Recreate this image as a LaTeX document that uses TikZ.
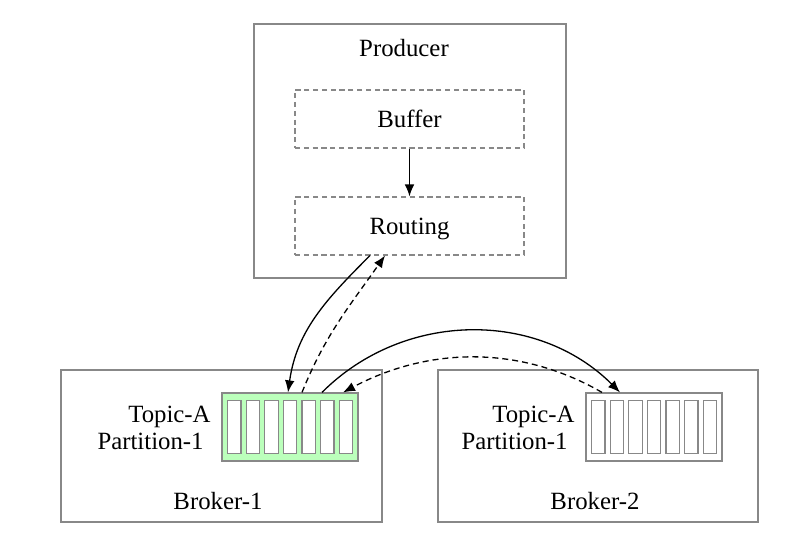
\documentclass[tikz,border=0pt]{standalone}
\usepackage{fontspec}
\setmainfont{Liberation Serif}
\usetikzlibrary{arrows.meta,positioning}
\definecolor{edgegray}{RGB}{136,136,136}
\definecolor{partgreen}{RGB}{187,255,187}
\tikzset{
  outerbox/.style={draw=edgegray, line width=0.55pt, inner sep=0pt},
  stagebox/.style={draw=edgegray, dash pattern=on 2.6pt off 1.8pt, line width=0.55pt, minimum width=114.5pt, minimum height=29pt},
  partbox/.style={draw=edgegray, line width=0.6pt, minimum width=68pt, minimum height=34pt, inner sep=0pt},
  cellbox/.style={draw=edgegray, fill=white, line width=0.6pt, minimum width=6.7pt, minimum height=26.3pt, inner sep=0pt},
  txt/.style={font=\fontsize{12.4}{15}\selectfont, inner sep=0pt, text height=8.2pt, text depth=0pt},
  flow/.style={line width=0.65pt, -{Latex[length=6pt,width=4.8pt]}},
  back/.style={flow, dash pattern=on 3pt off 2pt},
}
\begin{document}
\begin{tikzpicture}[x=0.5pt,y=0.5pt]
  \useasboundingbox (0,0) rectangle (811,541);

  %% producer
  \node[outerbox, minimum width=156pt, minimum height=127pt] (producer) at (410,390) {};
  \node[txt] (prodlabel) at (404,493) {Producer};
  \node[stagebox, txt] (buffer) at (409.5,422) {Buffer};
  \node[stagebox, txt] (routing) at (409.5,315) {Routing};
  \draw[flow] (buffer) -- (routing);

  %% brokers
  \node[outerbox, minimum width=160.5pt, minimum height=76pt] (broker1) at (221.5,95) {};
  \node[txt] (b1label) at (218,40) {Broker-1};
  \node[outerbox, minimum width=160pt, minimum height=76pt] (broker2) at (598,95) {};
  \node[txt] (b2label) at (595,40) {Broker-2};

  \node[txt, anchor=east] (topic1) at (211,127) {Topic-A};
  \node[txt, anchor=east] (part1) at (204,100) {Partition-1};
  \node[txt, anchor=east] (topic2) at (575,127) {Topic-A};
  \node[txt, anchor=east] (part2) at (568,100) {Partition-1};

  %% partitions
  \node[partbox, fill=partgreen] (p1) at (290,114) {};
  \node[partbox, fill=white] (p2) at (654,114) {};
  \foreach \i in {0,...,6} {
    \node[cellbox] (ca\i) at ({290+(\i-3)*18.6},114) {};
    \node[cellbox] (cb\i) at ({654+(\i-3)*18.6},114) {};
  }

  %% requests
  \draw[flow] ([xshift=-19.75pt]routing.south) to[out=-135,in=82] ([xshift=-1pt]p1.north);
  \draw[back] ([xshift=6pt]p1.north) to[out=68,in=-125] ([xshift=-12.25pt]routing.south);
  \draw[flow] ([xshift=16pt]p1.north) to[out=45,in=135,looseness=1.0] ([xshift=-17pt]p2.north);
  \draw[back] ([xshift=-26pt]p2.north) to[out=150,in=28,looseness=0.95] ([xshift=26.5pt]p1.north);
\end{tikzpicture}
\end{document}
